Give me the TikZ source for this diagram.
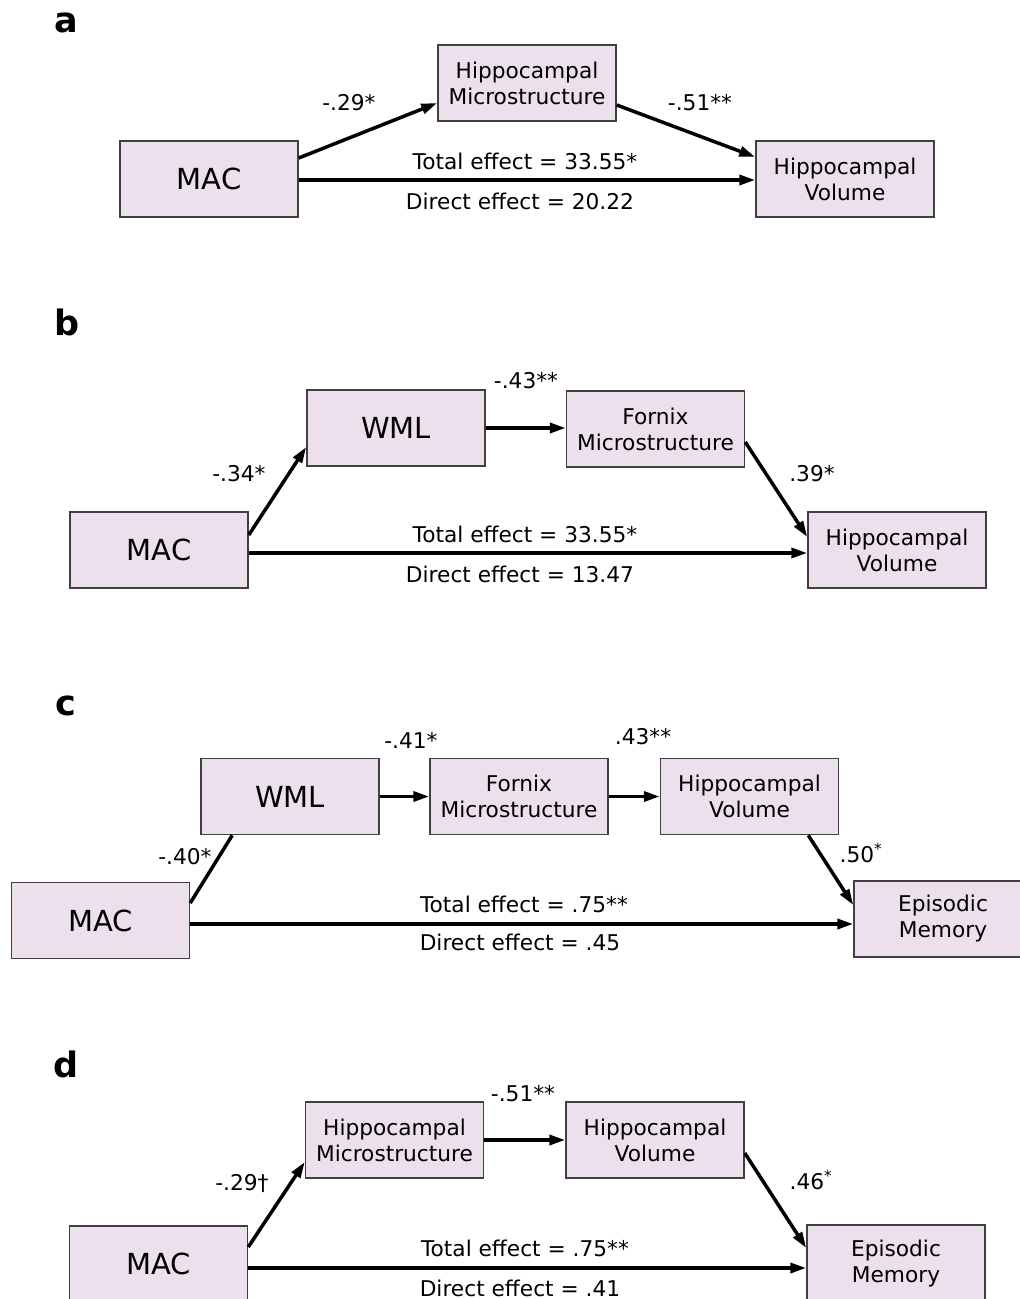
\documentclass[tikz,border=0pt]{standalone}
\usepackage{fontspec}
\setmainfont{DejaVu Sans}
\usetikzlibrary{arrows.meta,calc}
\definecolor{boxfill}{RGB}{236,224,236}
\definecolor{boxline}{RGB}{64,64,64}
\begin{document}
\begin{tikzpicture}[x=1pt,y=-1pt,
  box/.style={draw=boxline,line width=1.5pt,fill=boxfill,minimum width=178pt,minimum height=76pt,
    inner sep=0pt,align=center,font=\fontsize{21.7}{26}\selectfont},
  bigbox/.style={box,font=\fontsize{29}{30}\selectfont},
  lbl/.style={inner sep=0pt,font=\fontsize{21.7}{24}\selectfont},
  panel/.style={inner sep=0pt,font=\fontsize{35}{35}\selectfont\bfseries},
  arr/.style={line width=3.5pt,-{Triangle[length=16pt,width=10pt]}},
  plain/.style={line width=3.5pt}]
\useasboundingbox[fill=white] (0,0) rectangle (1020,1299);

% ---------------- panel a
\node[panel] (pa) at (66.5,22.5) {a};
\node[bigbox] (macA) at (209,179) {MAC};
\node[box] (hmA) at (527,83) {Hippocampal\\Microstructure};
\node[box] (hvA) at (845,179) {Hippocampal\\Volume};
\draw[arr] ([yshift=21pt]macA.east) -- ([yshift=-20pt]hmA.west);
\draw[arr] ([yshift=-22pt]hmA.east) -- ([yshift=22pt]hvA.west);
\draw[arr] ([yshift=-1pt]macA.east) -- ([yshift=-1pt]hvA.west);
\node[lbl] (la1) at (349,103) {-.29*};
\node[lbl] (la2) at (700,103) {-.51**};
\node[lbl] (la3) at (525,161) {Total effect = 33.55*};
\node[lbl] (la4) at (520,201) {Direct effect = 20.22};

% ---------------- panel b
\node[panel] (pb) at (67,322.5) {b};
\node[bigbox] (macB) at (159,550) {MAC};
\node[bigbox] (wmlB) at (396,428) {WML};
\node[box] (fxB) at (655.5,429) {Fornix\\Microstructure};
\node[box] (hvB) at (897,550) {Hippocampal\\Volume};
\draw[arr] ([yshift=15pt]macB.east) -- ([yshift=-19pt]wmlB.west);
\draw[arr] (wmlB.east) -- (wmlB.east -| fxB.west);
\draw[arr] ([yshift=-13pt]fxB.east) -- ([yshift=13pt]hvB.west);
\draw[arr] ([yshift=-3pt]macB.east) -- ([yshift=-3pt]hvB.west);
\node[lbl] (lb1) at (239,474) {-.34*};
\node[lbl] (lb2) at (526,381) {-.43**};
\node[lbl] (lb3) at (812,474) {.39*};
\node[lbl] (lb4) at (525,534) {Total effect = 33.55*};
\node[lbl] (lb5) at (520,574) {Direct effect = 13.47};

% ---------------- panel c
\node[panel] (pc) at (66,706) {c};
\node[bigbox] (macC) at (100.5,920.5) {MAC};
\node[bigbox] (wmlC) at (290,796.5) {WML};
\node[box] (fxC) at (519,796.5) {Fornix\\Microstructure};
\node[box] (hvC) at (749.5,796.5) {Hippocampal\\Volume};
\node[box] (emC) at (943,919) {Episodic\\Memory};
\draw[plain] ([yshift=17.5pt]macC.east) -- ([xshift=32pt]wmlC.south west);
\draw[arr] (wmlC.east) -- (wmlC.east -| fxC.west);
\draw[arr] (fxC.east) -- (fxC.east -| hvC.west);
\draw[arr] ([xshift=-31pt]hvC.south east) -- ([yshift=14pt]emC.west);
\draw[arr] ([yshift=-3.5pt]macC.east) -- ([yshift=-3.5pt]macC.east -| emC.west);
\node[lbl] (lc1) at (185,857) {-.40*};
\node[lbl] (lc2) at (411,740) {-.41*};
\node[lbl] (lc3) at (643,737) {.43**};
\node[lbl] (lc4) at (861,853) {.50\textsuperscript{*}};
\node[lbl] (lc5) at (524,904) {Total effect = .75**};
\node[lbl] (lc6) at (520,942) {Direct effect = .45};

% ---------------- panel d
\node[panel] (pd) at (66.5,1064) {d};
\node[bigbox] (macD) at (158.5,1264) {MAC};
\node[box] (hmD) at (394.5,1140) {Hippocampal\\Microstructure};
\node[box] (hvD) at (655,1140) {Hippocampal\\Volume};
\node[box] (emD) at (896,1263) {Episodic\\Memory};
\draw[arr] ([yshift=17pt]macD.east) -- ([yshift=-22pt]hmD.west);
\draw[arr] (hmD.east) -- (hmD.east -| hvD.west);
\draw[arr] ([yshift=-13pt]hvD.east) -- ([yshift=15pt]emD.west);
\draw[arr] ([yshift=-4pt]macD.east) -- ([yshift=-4pt]macD.east -| emD.west);
\node[lbl] (ld1) at (242,1183) {-.29†};
\node[lbl] (ld2) at (523,1094) {-.51**};
\node[lbl] (ld3) at (811,1180) {.46\textsuperscript{*}};
\node[lbl] (ld4) at (525,1248) {Total effect = .75**};
\node[lbl] (ld5) at (520,1288) {Direct effect = .41};
\end{tikzpicture}
\end{document}
